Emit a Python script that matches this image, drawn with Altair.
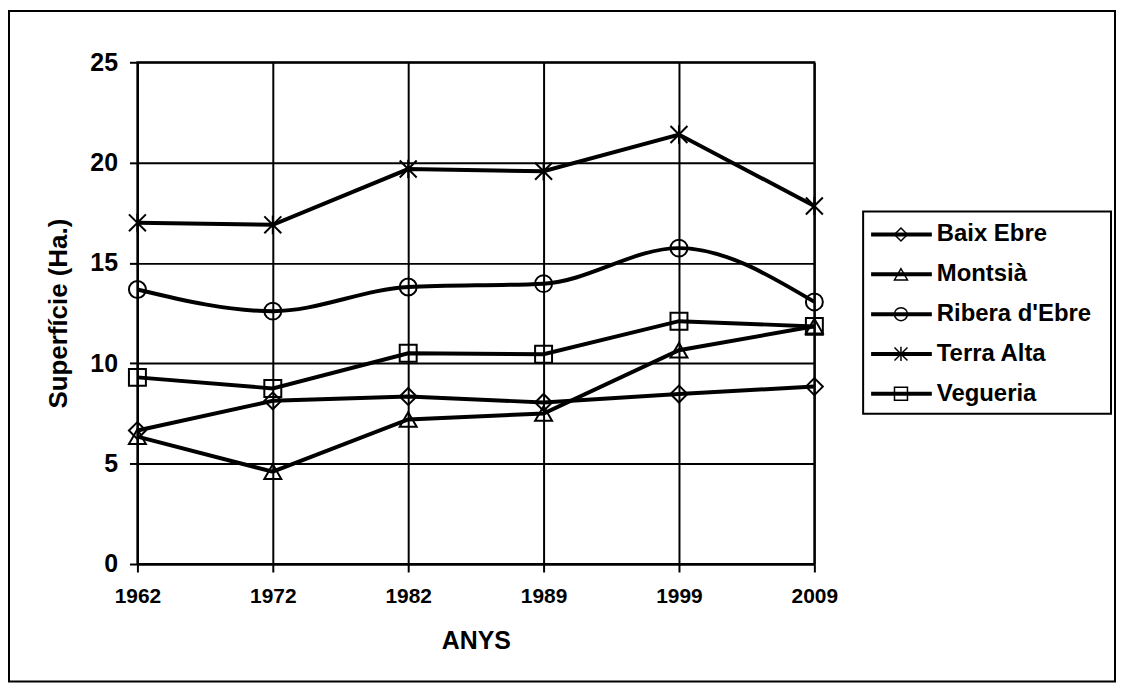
import altair as alt
import pandas as pd

FONT = "Liberation Sans"

years = ["1962", "1972", "1982", "1989", "1999", "2009"]
series = ["Baix Ebre", "Montsià", "Ribera d'Ebre", "Terra Alta", "Vegueria"]
baix_ebre = [6.65, 8.13, 8.35, 8.05, 8.47, 8.84]
montsia = [6.35, 4.6, 7.2, 7.5, 10.65, 11.85]
ribera = [13.68, 12.6, 13.8, 13.97, 15.74, 13.06]
terra_alta = [17.0, 16.9, 19.68, 19.57, 21.4, 17.84]
vegueria = [9.3, 8.75, 10.5, 10.45, 12.1, 11.84]

ASTER = "M-1,-1L1,1M-1,1L1,-1M0,-1.1L0,1.1"
shapes = ["diamond", "triangle-up", "circle", ASTER, "square"]

rows = []
for name, vals in zip(series, [baix_ebre, montsia, ribera, terra_alta, vegueria]):
    for yr, v in zip(years, vals):
        rows.append({"year": yr, "series": name, "value": v})
df = pd.DataFrame(rows)
leg_df = pd.DataFrame({"series": series})
one = pd.DataFrame({"k": [0]})

shape_scale = alt.Scale(domain=series, range=shapes)

xaxis = alt.Axis(
    title="ANYS", labelAngle=0, labelFontSize=21, labelFontWeight="bold",
    labelPadding=14, tickSize=8, tickWidth=2, tickColor="black",
    domainColor="black", domainWidth=2, grid=True, gridColor="black",
    gridWidth=2, gridOpacity=1, titleFontSize=25, titleFontWeight="bold",
    titleX=340, titleY=85, titleBaseline="alphabetic", titleAlign="center",
)
yaxis = alt.Axis(
    title="Superfície (Ha.)", values=[0, 5, 10, 15, 20, 25], labelFontSize=25,
    labelFontWeight="bold", labelPadding=12, tickSize=8, tickWidth=2,
    tickColor="black", domainColor="black", domainWidth=2, grid=True,
    gridColor="black", gridWidth=2, gridOpacity=1, titleFontSize=26,
    titleFontWeight="bold", titleX=-71, titleY=252, titleAngle=270,
    titleBaseline="alphabetic", titleAlign="center",
)

X = alt.X("year:O", sort=years, scale=alt.Scale(type="point", padding=0), axis=xaxis)
yscale = alt.Scale(domain=[0, 25], nice=False)

lines_straight = alt.Chart(df).transform_filter(
    alt.datum.series != "Ribera d'Ebre"
).mark_line(color="black", strokeWidth=4).encode(
    x=X, y=alt.Y("value:Q", scale=yscale, axis=yaxis), detail="series:N"
)
lines_smooth = alt.Chart(df).transform_filter(
    alt.datum.series == "Ribera d'Ebre"
).mark_line(color="black", strokeWidth=4, interpolate="monotone").encode(
    x=X, y=alt.Y("value:Q", scale=yscale, axis=None), detail="series:N"
)
points = alt.Chart(df).mark_point(
    filled=False, color="black", strokeWidth=2, size=290, opacity=1
).encode(
    x=X, y=alt.Y("value:Q", scale=yscale, axis=None),
    shape=alt.Shape("series:N", scale=shape_scale, legend=None),
)

frame = alt.Chart(one).mark_rect(fillOpacity=0, stroke="black", strokeWidth=2).encode(
    x=alt.value(-129), x2=alt.value(982), y=alt.value(-51.5), y2=alt.value(622)
)
leg_box = alt.Chart(one).mark_rect(fillOpacity=0, stroke="black", strokeWidth=2).encode(
    x=alt.value(729), x2=alt.value(978), y=alt.value(150), y2=alt.value(353)
)
ly = alt.Y("series:N", scale=alt.Scale(type="point", domain=series, range=[173, 333], padding=0), axis=None)
leg_rule = alt.Chart(leg_df).mark_rule(color="black", strokeWidth=4).encode(
    x=alt.value(737), x2=alt.value(798), y=ly
)
leg_pt = alt.Chart(leg_df).mark_point(
    filled=False, color="black", strokeWidth=1.5, size=170, opacity=1
).encode(
    x=alt.value(767), y=ly,
    shape=alt.Shape("series:N", scale=shape_scale, legend=None),
)
leg_txt = alt.Chart(leg_df).mark_text(
    align="left", baseline="middle", fontSize=24, fontWeight="bold", font=FONT, color="black"
).encode(x=alt.value(803), y=ly, text="series:N")

chart = alt.layer(
    frame, leg_box, lines_straight, lines_smooth, points, leg_rule, leg_pt, leg_txt
).resolve_scale(y="independent").properties(
    width=680, height=504, padding=0, background="white"
).configure_view(
    stroke="black", strokeWidth=2
).configure_axis(
    labelFont=FONT, titleFont=FONT, labelColor="black", titleColor="black"
)

chart.save("out.html", embed_options={"renderer": "svg", "actions": False})
